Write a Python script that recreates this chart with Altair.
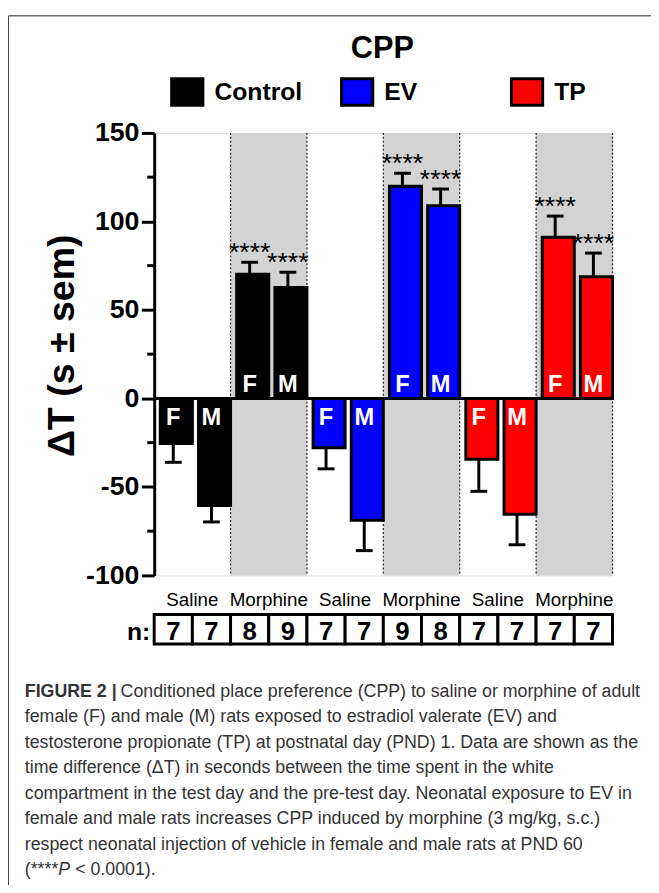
import altair as alt
import pandas as pd

# ---------------- data ----------------
treatments = ["Control", "EV", "TP"]
drugs = ["Saline", "Morphine"]
sexes = ["F", "M"]
treatment_colors = ["#000000", "#0000ff", "#ff0000"]

# order: treatment -> drug -> sex
mean_values = [-25.5, -60.5, 70.1, 62.6,
               -27.9, -68.9, 119.8, 108.9,
               -34.4, -65.5, 91.1, 68.7]
sem_values = [10.6, 9.3, 6.8, 8.7,
              11.9, 17.1, 7.4, 9.4,
              18.1, 17.2, 11.9, 13.4]
n_values = [7, 7, 8, 9, 7, 7, 9, 8, 7, 7, 7, 7]
sig_labels = ["", "", "****", "****", "", "", "****", "****", "", "", "****", "****"]

y_ticks = [-100, -50, 0, 50, 100, 150]
y_minor_ticks = [125, 75, 25, -25, -75]

chart_title = "CPP"
caption_bold = "FIGURE 2 |"
caption_first = "Conditioned place preference (CPP) to saline or morphine of adult"
caption_body = [
    "female (F) and male (M) rats exposed to estradiol valerate (EV) and",
    "testosterone propionate (TP) at postnatal day (PND) 1. Data are shown as the",
    "time difference (\u0394T) in seconds between the time spent in the white",
    "compartment in the test day and the pre-test day. Neonatal exposure to EV in",
    "female and male rats increases CPP induced by morphine (3 mg/kg, s.c.)",
    "respect neonatal injection of vehicle in female and male rats at PND 60",
]
caption_last = ["(****", "P", "< 0.0001)."]

# ---------------- table ----------------
groups = [f"{t} {d}" for t in treatments for d in drugs]
rows = []
k = 0
for t in treatments:
    for d in drugs:
        for s in sexes:
            m = mean_values[k]
            e = sem_values[k]
            rows.append(dict(treatment=t, drug=d, sex=s, grp=f"{t} {d}",
                             mean=m, sem=e,
                             err_end=m + (e if m >= 0 else -e),
                             n=n_values[k], sig=sig_labels[k]))
            k += 1
df = pd.DataFrame(rows)
bands_df = pd.DataFrame({"grp": [g for g in groups if g.endswith("Morphine")]})
minor_df = pd.DataFrame({"v": y_minor_ticks})
one = pd.DataFrame({"a": [0]})

SANS = "Liberation Sans, Arial, sans-serif"

x_axis = alt.Axis(title=None, domain=False, ticks=False, tickSize=0, grid=False,
                  labelAngle=0, labelExpr="split(datum.label, ' ')[1]",
                  labelFont=SANS, labelFontSize=19, labelColor="black",
                  labelBaseline="alphabetic", labelPadding=30)
x_scale = alt.Scale(domain=groups, paddingInner=0, paddingOuter=0)
xo_scale = alt.Scale(domain=sexes, paddingInner=0, paddingOuter=0)


def X(**kw):
    return alt.X("grp:N", scale=x_scale, axis=x_axis, **kw)


XO = alt.XOffset("sex:N", scale=xo_scale)

y_axis = alt.Axis(values=y_ticks, title="\u0394T (s \u00b1 sem)", grid=False,
                  labelExpr="'' + datum.value",
                  domainWidth=3, domainColor="black", tickWidth=3, tickSize=13,
                  tickColor="black", labelFont=SANS, labelFontSize=27,
                  labelFontWeight="bold", labelColor="black", labelPadding=2.5,
                  titleFont=SANS, titleFontSize=38, titleFontWeight="bold",
                  titleColor="black", titleAngle=-90, titleX=-82, titleY=215,
                  titleAlign="center", titleBaseline="alphabetic")
y_scale = alt.Scale(domain=[-100, 150], nice=False, zero=False)


def Y(field):
    return alt.Y(field, scale=y_scale, axis=y_axis)


base = alt.Chart(df)

bands = alt.Chart(bands_df).mark_rect(color="#d3d3d3").encode(
    x=X(), y=alt.datum(150, scale=y_scale), y2=alt.datum(-100))
edge_l = alt.Chart(bands_df).mark_rule(color="#222", strokeWidth=1.2, strokeDash=[2, 2]).encode(
    x=X(bandPosition=0), y=alt.datum(150), y2=alt.datum(-100))
edge_r = alt.Chart(bands_df).mark_rule(color="#222", strokeWidth=1.2, strokeDash=[2, 2]).encode(
    x=X(bandPosition=1), y=alt.datum(150), y2=alt.datum(-100))

zero = alt.Chart(one).mark_rule(color="black", strokeWidth=3).encode(y=alt.datum(0))
minor = alt.Chart(minor_df).mark_rule(color="black", strokeWidth=3).encode(
    y=Y("v:Q"), x=alt.value(-7), x2=alt.value(0))

bars = base.mark_bar(width=alt.RelativeBandSize(0.84), stroke="black", strokeWidth=3,
                     opacity=1).encode(
    x=X(), xOffset=XO, y=Y("mean:Q"), y2=alt.datum(0),
    color=alt.Color("treatment:N",
                    scale=alt.Scale(domain=treatments, range=treatment_colors),
                    legend=alt.Legend(orient="none", legendX=16, legendY=-59,
                                      direction="horizontal", columns=3,
                                      gridAlign="all", columnPadding=33,
                                      title=None, padding=0,
                                      symbolType="M-1,-0.845H1V0.845H-1Z",
                                      symbolSize=1000, symbolStrokeColor="black",
                                      symbolStrokeWidth=3, symbolOpacity=1,
                                      labelFont=SANS, labelFontSize=25,
                                      labelFontWeight="bold", labelColor="black",
                                      labelOffset=10)))

stems = base.mark_rule(color="black", strokeWidth=3).encode(
    x=X(), xOffset=XO, y=Y("mean:Q"), y2="err_end:Q")
caps = base.mark_tick(color="black", size=17, thickness=3, opacity=1).encode(
    x=X(), xOffset=XO, y=Y("err_end:Q"))

lab_pos = base.transform_filter("datum.mean >= 0").mark_text(
    color="white", font=SANS, fontSize=24, fontWeight="bold",
    baseline="alphabetic", dy=-6).encode(x=X(), xOffset=XO, y=alt.datum(0), text="sex:N")
lab_neg = base.transform_filter("datum.mean < 0").mark_text(
    color="white", font=SANS, fontSize=24, fontWeight="bold",
    baseline="alphabetic", dy=27).encode(x=X(), xOffset=XO, y=alt.datum(0), text="sex:N")

stars = base.transform_filter("datum.sig != ''").mark_text(
    color="black", font=SANS, fontSize=27, baseline="alphabetic", dy=-1).encode(
    x=X(), xOffset=XO, y=Y("err_end:Q"), text="sig:N")

cells = base.mark_rect(fill="white", stroke="black", strokeWidth=3).encode(
    x=X(), xOffset=XO, y=alt.value(487.5), y2=alt.value(517.5))
cell_text = base.mark_text(color="black", font=SANS, fontSize=26, fontWeight="bold",
                           baseline="alphabetic").encode(
    x=X(), xOffset=XO, y=alt.value(513), text="n:Q")
n_label = alt.Chart(one).mark_text(color="black", font=SANS, fontSize=25,
                                   fontWeight="bold", align="right",
                                   baseline="alphabetic").encode(
    x=alt.value(-4), y=alt.value(513), text=alt.value("n:"))

title_mark = alt.Chart(one).mark_text(color="black", font=SANS, fontSize=31,
                                      fontWeight="bold", align="center",
                                      baseline="alphabetic").encode(
    x=alt.value(231), y=alt.value(-75.5), text=alt.value(chart_title))

cap_style = dict(color="#333333", font=SANS, fontSize=18, align="left", baseline="alphabetic")
cap1b = alt.Chart(one).mark_text(**{**cap_style, "fontWeight": "bold"}).encode(
    x=alt.value(-131), y=alt.value(571), text=alt.value(caption_bold))
cap1 = alt.Chart(one).mark_text(**cap_style).encode(
    x=alt.value(-34), y=alt.value(571), text=alt.value(caption_first))
cap_body = alt.Chart(one).mark_text(**cap_style, lineHeight=25.8).encode(
    x=alt.value(-131), y=alt.value(596.8), text=alt.value(caption_body))
cap8a = alt.Chart(one).mark_text(**cap_style).encode(
    x=alt.value(-131), y=alt.value(751.6), text=alt.value(caption_last[0]))
cap8b = alt.Chart(one).mark_text(**{**cap_style, "fontStyle": "italic"}).encode(
    x=alt.value(-97), y=alt.value(751.6), text=alt.value(caption_last[1]))
cap8c = alt.Chart(one).mark_text(**cap_style).encode(
    x=alt.value(-80), y=alt.value(751.6), text=alt.value(caption_last[2]))

border_top = alt.Chart(one).mark_rule(color="#222", strokeWidth=1).encode(
    x=alt.value(-147.5), x2=alt.value(520), y=alt.value(-118.5))
border_left = alt.Chart(one).mark_rule(color="#444", strokeWidth=1).encode(
    x=alt.value(-147.5), y=alt.value(-118.5), y2=alt.value(780))

chart = alt.layer(
    bands, edge_l, edge_r, minor, bars, zero, stems, caps, lab_pos, lab_neg, stars,
    cells, cell_text, n_label, title_mark, cap1b, cap1, cap_body, cap8a, cap8b, cap8c,
    border_top, border_left,
).properties(
    width=464, height=448,
    autosize=alt.AutoSizeParams(type="none"),
    padding={"left": 148, "top": 121, "right": 39, "bottom": 308},
).configure_view(stroke=None).configure(background="white")

chart.save("out.html", embed_options={"renderer": "svg", "actions": False})
